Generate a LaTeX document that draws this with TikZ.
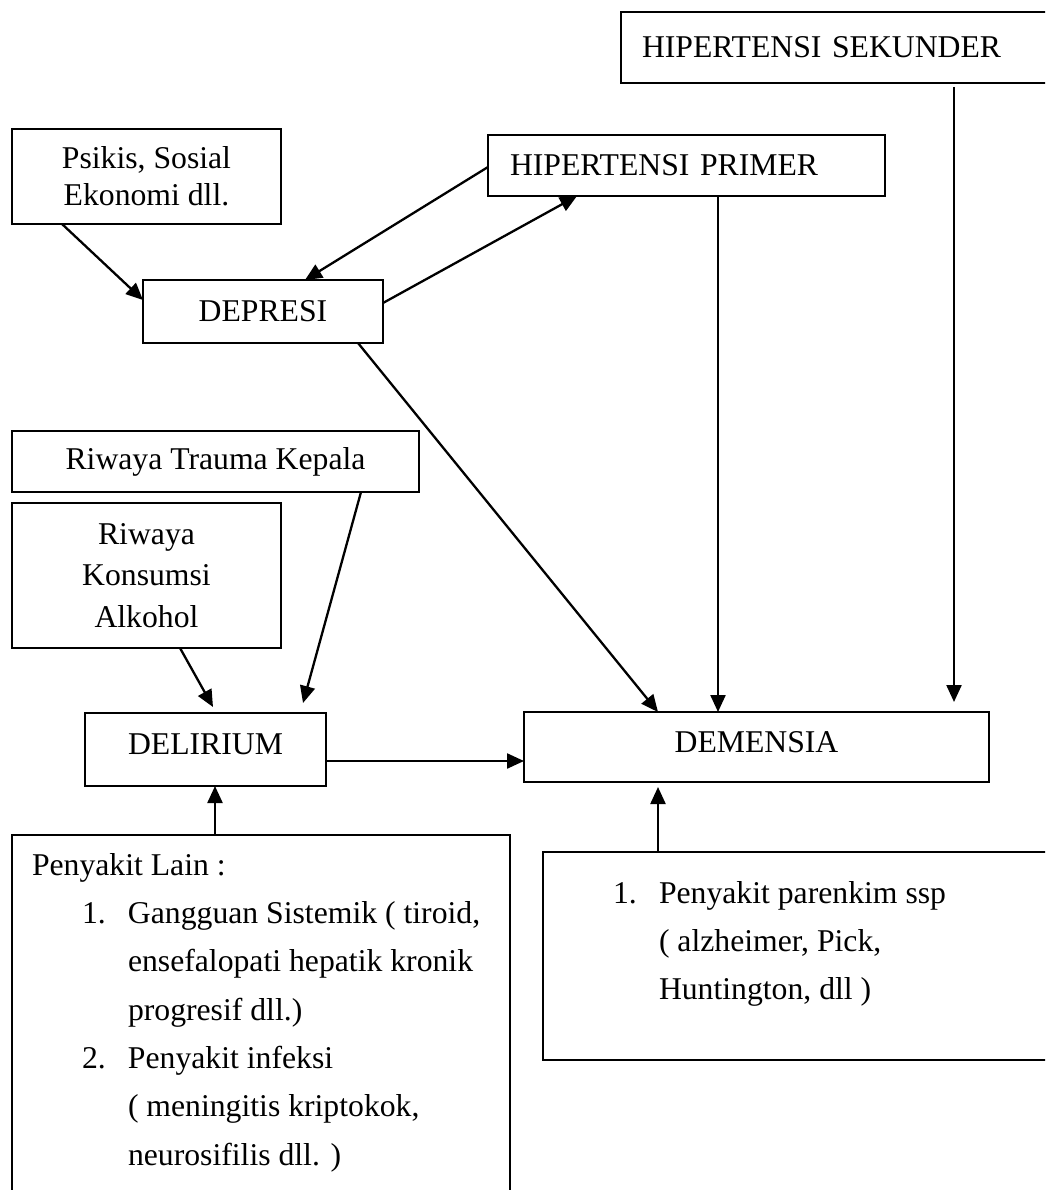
\documentclass[tikz,border=0pt]{standalone}
\usepackage{fontspec}
\setmainfont{Liberation Serif}
\usetikzlibrary{arrows.meta,calc}
\begin{document}
\begin{tikzpicture}[x=1pt,y=-1pt,
  every node/.style={font=\fontsize{31.7pt}{37pt}\selectfont},
  box/.style={draw,line width=2.3pt,rectangle,inner sep=0pt,outer sep=0pt,anchor=north west},
  txt/.style={inner sep=0pt,outer sep=0pt,anchor=north west,align=left,font=\fontsize{31.7pt}{48.3pt}\selectfont},
  conn/.style={line width=2.3pt,-{Triangle[length=17pt,width=15pt]}}]
\useasboundingbox (0,0) rectangle (1045,1190);
\clip (0,0) rectangle (1045,1190);
\fill[white] (0,0) rectangle (1045,1190);

\node[box,text width=398pt,inner xsep=21pt,align=left,minimum height=71pt] (sek) at (621,12) {HIPERTENSI SEKUNDER};
\node[box,text width=353pt,inner xsep=22pt,align=left,minimum height=61pt] (prim) at (488,135) {HIPERTENSI PRIMER};
\node[box,minimum width=269pt,minimum height=95pt,align=center] (psikis) at (12,129) {Psikis, Sosial\\Ekonomi dll.};
\node[box,minimum width=240pt,minimum height=63pt] (depresi) at (143,280) {DEPRESI};
\node[box,minimum width=407pt,minimum height=61pt] (trauma) at (12,431) {Riwaya Trauma Kepala};
\node[box,minimum width=269pt,minimum height=145pt,align=center,font=\fontsize{31.7pt}{41.5pt}\selectfont] (alkohol) at (12,503) {Riwaya\\Konsumsi\\Alkohol};
\node[box,minimum width=241pt,minimum height=73pt,text height=21pt,text depth=12pt] (delirium) at (85,713) {DELIRIUM};
\node[box,minimum width=465pt,minimum height=70pt,text height=21pt,text depth=10pt] (demensia) at (524,712) {DEMENSIA};
\node[box,minimum width=498pt,minimum height=400pt] (lain) at (12,835) {};
\node[box,minimum width=520pt,minimum height=208pt] (parenkim) at (543,852) {};

\node[txt] (lainText) at ($(lain.north west)+(20,18.3)$) {Penyakit Lain :\\
\hspace*{50pt}\makebox[46pt][l]{1.}Gangguan Sistemik ( tiroid,\\
\hspace*{96pt}ensefalopati hepatik kronik\\
\hspace*{96pt}progresif dll.)\\
\hspace*{50pt}\makebox[46pt][l]{2.}Penyakit infeksi\\
\hspace*{96pt}( meningitis kriptokok,\\
\hspace*{96pt}neurosifilis dll. )};
\node[txt] (parenkimText) at ($(parenkim.north west)+(70,29.3)$) {\makebox[46pt][l]{1.}Penyakit parenkim ssp\\
\hspace*{46pt}( alzheimer, Pick,\\
\hspace*{46pt}Huntington, dll )};

\coordinate (sekEnd) at (954,702);

\draw[conn] ($(psikis.south west)+(50,0)$) -- ($(depresi.north west)+(0,20)$);
\draw[conn] ($(prim.north west)+(0,32)$) -- ($(depresi.north west)+(162,0)$);
\draw[conn] ($(depresi.north east)+(0,23)$) -- ($(prim.south west)+(89,0)$);
\draw[conn] ($(depresi.south west)+(215,0)$) -- ($(demensia.north west)+(134,0)$);
\draw[conn] ($(prim.south west)+(230,0)$) -- ($(demensia.north west)+(194,0)$);
\draw[conn] ($(sek.south west)+(333,4)$) -- (sekEnd);
\draw[conn] ($(trauma.south west)+(349,0)$) -- ($(delirium.north west)+(218,-10)$);
\draw[conn] ($(alkohol.south west)+(168,0)$) -- ($(delirium.north west)+(128,-6)$);
\draw[conn] ($(delirium.north east)+(0,48)$) -- ($(demensia.north west)+(0,49)$);
\draw[conn] ($(lain.north west)+(203,0)$) -- ($(delirium.south west)+(130,0)$);
\draw[conn] ($(parenkim.north west)+(115,0)$) -- ($(demensia.south west)+(134,5)$);
\end{tikzpicture}
\end{document}
